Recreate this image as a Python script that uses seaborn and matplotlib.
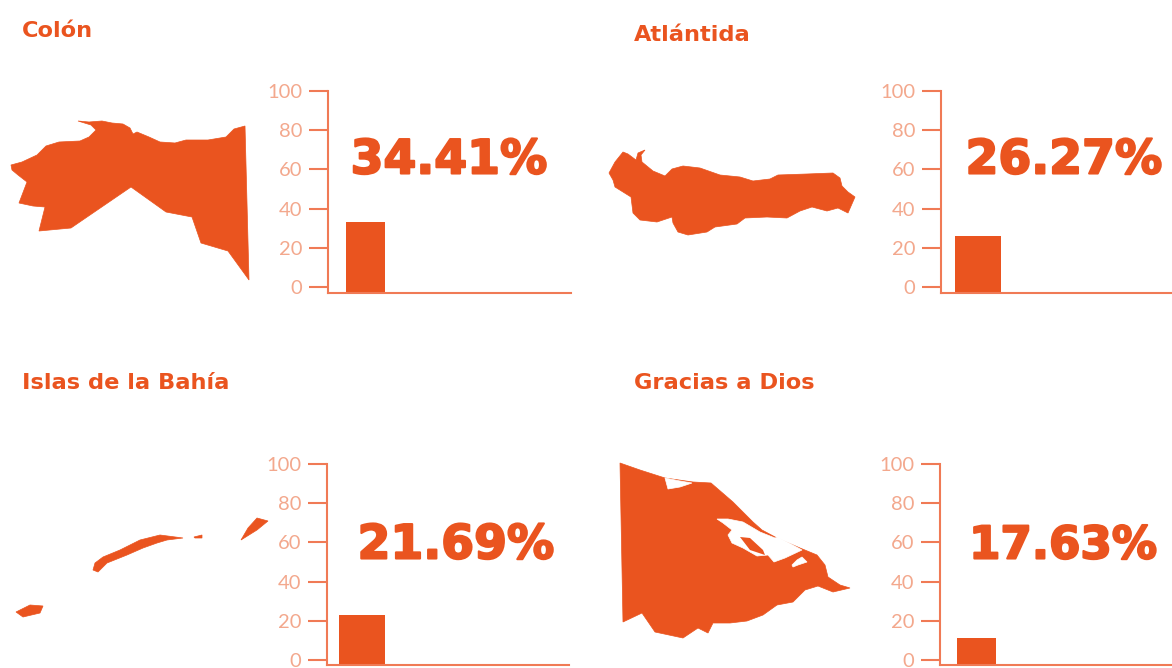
import seaborn as sns
import matplotlib.pyplot as plt
import matplotlib.patheffects as pe

departments = ["Colón", "Atlántida", "Islas de la Bahía", "Gracias a Dios"]
bar_values = [33.2, 26.2, 23.0, 11.2]
pct_labels = ["34.41%", "26.27%", "21.69%", "17.63%"]
pct_sizes = [34, 34, 34, 32.5]  # the 1 is narrower in the original font
y_ticks = [0, 20, 40, 60, 80, 100]

# map outlines
colon_outline = [(11,165),(22,162),(37,155),(46,146),(59,142),(80,141),(89,137),(96,130),(91,125),(78,121),
                 (89,122),(102,121),(112,123),(123,124),(130,128),(133,134),(137,132),(149,137),(160,142),
                 (175,143),(186,140),(208,140),(226,137),(234,129),(245,126),(249,280),(228,251),(201,243),
                 (192,217),(166,212),(131,187),(71,228),(39,231),(45,207),(33,206),(19,203),(27,182),(18,175),(12,170)]
atlantida_outline = [(609,173),(615,162),(623,152),(628,154),(636,160),(638,153),(645,150),(641,155),(642,162),
                     (653,171),(665,176),(672,169),(683,166),(700,168),(720,175),(740,177),(753,181),(770,179),
                     (778,175),(807,174),(833,173),(840,178),(842,186),(848,192),(855,197),(848,213),(838,208),
                     (827,211),(812,207),(800,211),(787,218),(767,217),(745,218),(737,224),(715,227),(707,232),
                     (688,235),(678,232),(673,223),(672,217),(657,222),(640,220),(633,213),(631,197),(615,187),(613,180)]
roatan_outline = [(93,570),(95,563),(103,557),(120,550),(140,540),(160,535),(183,538),(167,540),(157,543),
                  (143,548),(127,555),(107,563),(98,572)]
cayo_outline = [(194,537),(202,535),(202,538),(195,538)]
guanaja_outline = [(241,540),(248,528),(257,518),(268,521),(257,530)]
utila_outline = [(16,612),(30,605),(43,606),(40,613),(23,617)]
gracias_outline = [(620,463),(640,470),(665,478),(693,482),(711,483),(733,502),(753,522),(762,530),(777,538),
                   (800,548),(817,555),(825,565),(828,577),(840,585),(850,588),(833,592),(818,586),(805,590),
                   (793,602),(777,605),(763,615),(747,621),(730,623),(713,623),(708,633),(698,628),(683,638),
                   (655,632),(642,613),(623,622)]
lagoon_top = [(665,478),(668,489),(680,487),(692,483),(680,481)]
lagoon_main = [(717,519),(728,519),(743,522),(760,532),(775,538),(778,537),(802,550),(785,558),(774,562),
               (768,555),(757,556),(743,548),(732,543),(728,535),(732,530),(723,523)]
lagoon_island = [(740,537),(750,538),(763,550),(765,555),(750,550)]
lagoon_small = [(792,565),(797,560),(802,557),(807,562),(798,565),(793,567)]

orange = "#ea541f"
axis_orange = "#f07a55"
tick_label = "#f3a88d"

# spine x, right end, y of 100, y of 0, baseline y, bar left, bar right
panels = [(328, 571, 91, 287, 293, 346, 385),
          (941, 1172, 91, 287, 293, 955, 1001),
          (327, 569, 464, 660, 665, 339, 385),
          (940, 1172, 464, 660, 665, 957, 996)]
title_pos = [(22, 31), (634, 35), (22, 383), (634, 383)]
pct_pos = [(449, 161), (1064, 161), (456, 546), (1063, 546)]

W, H = 1172, 668
sns.set_theme(style="white")
plt.rcParams['font.family'] = ['DejaVu Sans']

fig = plt.figure(figsize=(W/100, H/100), dpi=100, facecolor="white")

# whole figure layer in pixels for the maps
bg = fig.add_axes([0, 0, 1, 1])
bg.set_xlim(0, W)
bg.set_ylim(H, 0)
bg.axis("off")
for shape in [colon_outline, atlantida_outline, roatan_outline, cayo_outline, guanaja_outline, utila_outline, gracias_outline]:
    bg.fill(*zip(*shape), color=orange, lw=0.5)
for shape in [lagoon_top, lagoon_main, lagoon_small]:
    bg.fill(*zip(*shape), color="white", lw=0.5)
bg.fill(*zip(*lagoon_island), color=orange, lw=0)

for i in range(4):
    sx, rx, ytop, yzero, ybase, bl, br = panels[i]
    ax = fig.add_axes([sx/W, 1 - ybase/H, (rx - sx)/W, (ybase - ytop)/H])
    ax.patch.set_alpha(0)
    sns.barplot(x=[departments[i]], y=[bar_values[i]], color=orange, saturation=1, width=1, ax=ax)
    unit = (yzero - ytop)/100
    low = -(ybase - yzero)/unit
    ax.set_ylim(low, 100)
    # bars run down to the baseline, which sits under the 0 tick
    for p in ax.patches:
        p.set_y(low)
        p.set_height(bar_values[i] - low)
        p.set_linewidth(0)
    w = br - bl
    ax.set_xlim(-0.5 - (bl - sx)/w, 0.5 + (rx - br)/w)
    ax.set_xticks([])
    ax.set_xlabel("")
    ax.set_ylabel("")
    ax.set_yticks(y_ticks)
    ax.tick_params(axis="y", length=13.5, width=1.5, color=axis_orange, labelcolor=tick_label,
                   labelsize=14.5, pad=5, left=True)
    for lab in ax.get_yticklabels():
        lab.set_family("Lato")
    sns.despine(ax=ax)
    for side in ["left", "bottom"]:
        ax.spines[side].set_color(axis_orange)
        ax.spines[side].set_linewidth(1.5)

    fig.text(title_pos[i][0]/W, 1 - title_pos[i][1]/H, departments[i], color=orange, fontsize=16.2,
             fontweight="bold", va="center", ha="left")
    t = fig.text(pct_pos[i][0]/W, 1 - pct_pos[i][1]/H, pct_labels[i], color=orange, fontsize=pct_sizes[i],
                 fontweight="bold", va="center", ha="center")
    t.set_path_effects([pe.withStroke(linewidth=1.5, foreground=orange)])

fig.savefig("out.png", dpi=100)
